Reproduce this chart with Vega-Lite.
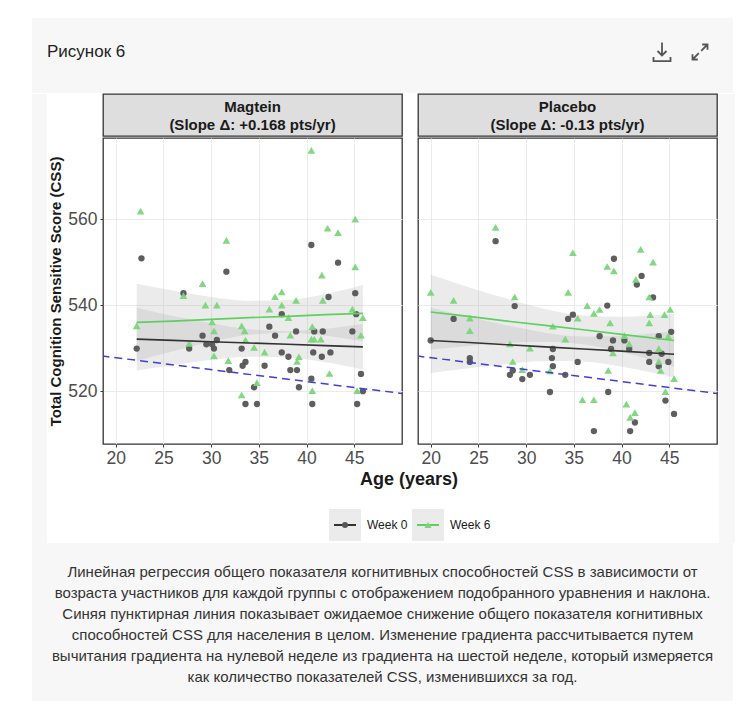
{
  "$schema": "https://vega.github.io/schema/vega-lite/v6.json",
  "background": "white",
  "padding": {"left": 32, "top": 18, "right": 0, "bottom": 0},
  "spacing": 0,
  "config": {
    "font": "Liberation Sans",
    "view": {"stroke": null},
    "axis": {
      "domain": false,
      "gridColor": "#ebebeb",
      "gridWidth": 1,
      "tickColor": "#333333",
      "tickSize": 3,
      "labelColor": "#4d4d4d",
      "labelFont": "Liberation Sans",
      "labelFontSize": 17.5,
      "titleFont": "Liberation Sans",
      "titleFontWeight": "bold",
      "titleColor": "#1a1a1a"
    }
  },
  "datasets": {
    "points": [
      {"g": "Magtein", "w": "Week 6", "age": 22.6, "css": 561.9},
      {"g": "Magtein", "w": "Week 6", "age": 40.5, "css": 576.0},
      {"g": "Magtein", "w": "Week 6", "age": 31.6, "css": 555.1},
      {"g": "Magtein", "w": "Week 6", "age": 29.1, "css": 545.0},
      {"g": "Magtein", "w": "Week 6", "age": 27.1, "css": 542.2},
      {"g": "Magtein", "w": "Week 6", "age": 29.4, "css": 540.0},
      {"g": "Magtein", "w": "Week 6", "age": 30.6, "css": 540.0},
      {"g": "Magtein", "w": "Week 6", "age": 22.2, "css": 535.2},
      {"g": "Magtein", "w": "Week 6", "age": 30.1, "css": 536.1},
      {"g": "Magtein", "w": "Week 6", "age": 30.3, "css": 534.0},
      {"g": "Magtein", "w": "Week 6", "age": 33.2, "css": 535.2},
      {"g": "Magtein", "w": "Week 6", "age": 33.5, "css": 534.0},
      {"g": "Magtein", "w": "Week 6", "age": 33.6, "css": 531.9},
      {"g": "Magtein", "w": "Week 6", "age": 27.7, "css": 531.1},
      {"g": "Magtein", "w": "Week 6", "age": 30.3, "css": 528.2},
      {"g": "Magtein", "w": "Week 6", "age": 34.5, "css": 530.2},
      {"g": "Magtein", "w": "Week 6", "age": 31.8, "css": 527.1},
      {"g": "Magtein", "w": "Week 6", "age": 35.6, "css": 529.1},
      {"g": "Magtein", "w": "Week 6", "age": 33.2, "css": 519.1},
      {"g": "Magtein", "w": "Week 6", "age": 34.8, "css": 522.0},
      {"g": "Magtein", "w": "Week 6", "age": 36.7, "css": 542.0},
      {"g": "Magtein", "w": "Week 6", "age": 37.4, "css": 543.1},
      {"g": "Magtein", "w": "Week 6", "age": 36.1, "css": 539.1},
      {"g": "Magtein", "w": "Week 6", "age": 37.4, "css": 540.0},
      {"g": "Magtein", "w": "Week 6", "age": 38.9, "css": 541.1},
      {"g": "Magtein", "w": "Week 6", "age": 38.1, "css": 537.1},
      {"g": "Magtein", "w": "Week 6", "age": 38.3, "css": 533.0},
      {"g": "Magtein", "w": "Week 6", "age": 39.2, "css": 528.0},
      {"g": "Magtein", "w": "Week 6", "age": 39.0, "css": 526.9},
      {"g": "Magtein", "w": "Week 6", "age": 40.6, "css": 535.0},
      {"g": "Magtein", "w": "Week 6", "age": 40.8, "css": 532.1},
      {"g": "Magtein", "w": "Week 6", "age": 40.5, "css": 532.1},
      {"g": "Magtein", "w": "Week 6", "age": 41.5, "css": 532.1},
      {"g": "Magtein", "w": "Week 6", "age": 41.6, "css": 547.0},
      {"g": "Magtein", "w": "Week 6", "age": 41.7, "css": 541.1},
      {"g": "Magtein", "w": "Week 6", "age": 40.6, "css": 520.1},
      {"g": "Magtein", "w": "Week 6", "age": 42.2, "css": 557.9},
      {"g": "Magtein", "w": "Week 6", "age": 43.3, "css": 556.9},
      {"g": "Magtein", "w": "Week 6", "age": 42.4, "css": 524.1},
      {"g": "Magtein", "w": "Week 6", "age": 45.1, "css": 560.0},
      {"g": "Magtein", "w": "Week 6", "age": 45.1, "css": 548.9},
      {"g": "Magtein", "w": "Week 6", "age": 44.8, "css": 539.1},
      {"g": "Magtein", "w": "Week 6", "age": 45.9, "css": 537.1},
      {"g": "Magtein", "w": "Week 6", "age": 45.7, "css": 533.0},
      {"g": "Magtein", "w": "Week 6", "age": 45.3, "css": 520.1},
      {"g": "Magtein", "w": "Week 0", "age": 22.7, "css": 550.9},
      {"g": "Magtein", "w": "Week 0", "age": 22.2, "css": 529.9},
      {"g": "Magtein", "w": "Week 0", "age": 27.1, "css": 542.8},
      {"g": "Magtein", "w": "Week 0", "age": 27.7, "css": 529.9},
      {"g": "Magtein", "w": "Week 0", "age": 31.6, "css": 547.8},
      {"g": "Magtein", "w": "Week 0", "age": 29.1, "css": 532.9},
      {"g": "Magtein", "w": "Week 0", "age": 29.5, "css": 530.9},
      {"g": "Magtein", "w": "Week 0", "age": 30.1, "css": 530.9},
      {"g": "Magtein", "w": "Week 0", "age": 30.3, "css": 529.9},
      {"g": "Magtein", "w": "Week 0", "age": 30.6, "css": 531.9},
      {"g": "Magtein", "w": "Week 0", "age": 31.9, "css": 524.9},
      {"g": "Magtein", "w": "Week 0", "age": 33.2, "css": 529.9},
      {"g": "Magtein", "w": "Week 0", "age": 33.6, "css": 526.8},
      {"g": "Magtein", "w": "Week 0", "age": 33.3, "css": 525.9},
      {"g": "Magtein", "w": "Week 0", "age": 33.6, "css": 517.0},
      {"g": "Magtein", "w": "Week 0", "age": 34.8, "css": 517.0},
      {"g": "Magtein", "w": "Week 0", "age": 34.5, "css": 520.9},
      {"g": "Magtein", "w": "Week 0", "age": 35.6, "css": 525.9},
      {"g": "Magtein", "w": "Week 0", "age": 36.1, "css": 535.0},
      {"g": "Magtein", "w": "Week 0", "age": 36.7, "css": 532.9},
      {"g": "Magtein", "w": "Week 0", "age": 37.4, "css": 537.9},
      {"g": "Magtein", "w": "Week 0", "age": 37.4, "css": 529.0},
      {"g": "Magtein", "w": "Week 0", "age": 38.1, "css": 528.0},
      {"g": "Magtein", "w": "Week 0", "age": 38.3, "css": 524.9},
      {"g": "Magtein", "w": "Week 0", "age": 39.0, "css": 524.9},
      {"g": "Magtein", "w": "Week 0", "age": 38.9, "css": 533.9},
      {"g": "Magtein", "w": "Week 0", "age": 39.2, "css": 520.9},
      {"g": "Magtein", "w": "Week 0", "age": 40.5, "css": 554.0},
      {"g": "Magtein", "w": "Week 0", "age": 40.8, "css": 533.9},
      {"g": "Magtein", "w": "Week 0", "age": 40.7, "css": 529.0},
      {"g": "Magtein", "w": "Week 0", "age": 40.5, "css": 522.9},
      {"g": "Magtein", "w": "Week 0", "age": 40.6, "css": 517.0},
      {"g": "Magtein", "w": "Week 0", "age": 41.6, "css": 528.0},
      {"g": "Magtein", "w": "Week 0", "age": 41.7, "css": 533.9},
      {"g": "Magtein", "w": "Week 0", "age": 42.3, "css": 541.9},
      {"g": "Magtein", "w": "Week 0", "age": 42.5, "css": 529.0},
      {"g": "Magtein", "w": "Week 0", "age": 43.3, "css": 549.9},
      {"g": "Magtein", "w": "Week 0", "age": 45.1, "css": 542.8},
      {"g": "Magtein", "w": "Week 0", "age": 45.2, "css": 537.9},
      {"g": "Magtein", "w": "Week 0", "age": 44.8, "css": 533.9},
      {"g": "Magtein", "w": "Week 0", "age": 45.7, "css": 524.0},
      {"g": "Magtein", "w": "Week 0", "age": 45.9, "css": 520.0},
      {"g": "Magtein", "w": "Week 0", "age": 45.3, "css": 517.0},
      {"g": "Placebo", "w": "Week 6", "age": 20.0, "css": 543.0},
      {"g": "Placebo", "w": "Week 6", "age": 22.4, "css": 541.1},
      {"g": "Placebo", "w": "Week 6", "age": 24.1, "css": 537.0},
      {"g": "Placebo", "w": "Week 6", "age": 24.1, "css": 534.1},
      {"g": "Placebo", "w": "Week 6", "age": 26.8, "css": 558.1},
      {"g": "Placebo", "w": "Week 6", "age": 28.8, "css": 541.9},
      {"g": "Placebo", "w": "Week 6", "age": 28.3, "css": 531.0},
      {"g": "Placebo", "w": "Week 6", "age": 28.6, "css": 526.9},
      {"g": "Placebo", "w": "Week 6", "age": 29.6, "css": 525.0},
      {"g": "Placebo", "w": "Week 6", "age": 30.4, "css": 530.0},
      {"g": "Placebo", "w": "Week 6", "age": 32.5, "css": 524.7},
      {"g": "Placebo", "w": "Week 6", "age": 32.8, "css": 535.1},
      {"g": "Placebo", "w": "Week 6", "age": 34.1, "css": 532.1},
      {"g": "Placebo", "w": "Week 6", "age": 34.4, "css": 543.0},
      {"g": "Placebo", "w": "Week 6", "age": 34.9, "css": 552.2},
      {"g": "Placebo", "w": "Week 6", "age": 35.4, "css": 537.0},
      {"g": "Placebo", "w": "Week 6", "age": 35.9, "css": 518.0},
      {"g": "Placebo", "w": "Week 6", "age": 36.4, "css": 539.9},
      {"g": "Placebo", "w": "Week 6", "age": 37.1, "css": 538.1},
      {"g": "Placebo", "w": "Week 6", "age": 37.1, "css": 518.0},
      {"g": "Placebo", "w": "Week 6", "age": 37.7, "css": 539.0},
      {"g": "Placebo", "w": "Week 6", "age": 38.5, "css": 549.0},
      {"g": "Placebo", "w": "Week 6", "age": 39.2, "css": 548.0},
      {"g": "Placebo", "w": "Week 6", "age": 38.8, "css": 535.9},
      {"g": "Placebo", "w": "Week 6", "age": 39.1, "css": 528.9},
      {"g": "Placebo", "w": "Week 6", "age": 38.6, "css": 524.8},
      {"g": "Placebo", "w": "Week 6", "age": 40.3, "css": 532.9},
      {"g": "Placebo", "w": "Week 6", "age": 40.5, "css": 517.0},
      {"g": "Placebo", "w": "Week 6", "age": 40.8, "css": 531.0},
      {"g": "Placebo", "w": "Week 6", "age": 40.9, "css": 513.9},
      {"g": "Placebo", "w": "Week 6", "age": 41.4, "css": 515.0},
      {"g": "Placebo", "w": "Week 6", "age": 41.5, "css": 546.0},
      {"g": "Placebo", "w": "Week 6", "age": 42.0, "css": 553.0},
      {"g": "Placebo", "w": "Week 6", "age": 42.9, "css": 541.9},
      {"g": "Placebo", "w": "Week 6", "age": 43.0, "css": 537.8},
      {"g": "Placebo", "w": "Week 6", "age": 42.9, "css": 535.9},
      {"g": "Placebo", "w": "Week 6", "age": 43.3, "css": 550.0},
      {"g": "Placebo", "w": "Week 6", "age": 43.9, "css": 529.9},
      {"g": "Placebo", "w": "Week 6", "age": 43.9, "css": 526.9},
      {"g": "Placebo", "w": "Week 6", "age": 44.1, "css": 524.8},
      {"g": "Placebo", "w": "Week 6", "age": 44.5, "css": 537.8},
      {"g": "Placebo", "w": "Week 6", "age": 44.9, "css": 532.8},
      {"g": "Placebo", "w": "Week 6", "age": 45.1, "css": 539.0},
      {"g": "Placebo", "w": "Week 6", "age": 44.6, "css": 519.9},
      {"g": "Placebo", "w": "Week 6", "age": 45.5, "css": 522.9},
      {"g": "Placebo", "w": "Week 0", "age": 20.0, "css": 531.8},
      {"g": "Placebo", "w": "Week 0", "age": 22.4, "css": 536.8},
      {"g": "Placebo", "w": "Week 0", "age": 24.1, "css": 527.7},
      {"g": "Placebo", "w": "Week 0", "age": 24.1, "css": 526.8},
      {"g": "Placebo", "w": "Week 0", "age": 26.8, "css": 554.9},
      {"g": "Placebo", "w": "Week 0", "age": 28.8, "css": 539.8},
      {"g": "Placebo", "w": "Week 0", "age": 28.3, "css": 523.8},
      {"g": "Placebo", "w": "Week 0", "age": 28.6, "css": 524.8},
      {"g": "Placebo", "w": "Week 0", "age": 29.6, "css": 522.8},
      {"g": "Placebo", "w": "Week 0", "age": 30.4, "css": 523.8},
      {"g": "Placebo", "w": "Week 0", "age": 32.5, "css": 519.8},
      {"g": "Placebo", "w": "Week 0", "age": 32.8, "css": 529.8},
      {"g": "Placebo", "w": "Week 0", "age": 32.7, "css": 527.7},
      {"g": "Placebo", "w": "Week 0", "age": 32.8, "css": 525.8},
      {"g": "Placebo", "w": "Week 0", "age": 34.1, "css": 523.8},
      {"g": "Placebo", "w": "Week 0", "age": 34.4, "css": 536.8},
      {"g": "Placebo", "w": "Week 0", "age": 34.9, "css": 537.8},
      {"g": "Placebo", "w": "Week 0", "age": 35.4, "css": 526.8},
      {"g": "Placebo", "w": "Week 0", "age": 37.1, "css": 510.7},
      {"g": "Placebo", "w": "Week 0", "age": 37.7, "css": 532.8},
      {"g": "Placebo", "w": "Week 0", "age": 38.5, "css": 539.9},
      {"g": "Placebo", "w": "Week 0", "age": 39.2, "css": 550.8},
      {"g": "Placebo", "w": "Week 0", "age": 39.1, "css": 531.8},
      {"g": "Placebo", "w": "Week 0", "age": 38.9, "css": 529.8},
      {"g": "Placebo", "w": "Week 0", "age": 38.6, "css": 519.8},
      {"g": "Placebo", "w": "Week 0", "age": 40.3, "css": 531.8},
      {"g": "Placebo", "w": "Week 0", "age": 40.8, "css": 529.8},
      {"g": "Placebo", "w": "Week 0", "age": 40.9, "css": 510.7},
      {"g": "Placebo", "w": "Week 0", "age": 41.4, "css": 512.7},
      {"g": "Placebo", "w": "Week 0", "age": 41.6, "css": 544.8},
      {"g": "Placebo", "w": "Week 0", "age": 42.1, "css": 546.8},
      {"g": "Placebo", "w": "Week 0", "age": 43.3, "css": 541.8},
      {"g": "Placebo", "w": "Week 0", "age": 42.9, "css": 528.9},
      {"g": "Placebo", "w": "Week 0", "age": 42.9, "css": 526.8},
      {"g": "Placebo", "w": "Week 0", "age": 43.9, "css": 532.8},
      {"g": "Placebo", "w": "Week 0", "age": 43.9, "css": 525.8},
      {"g": "Placebo", "w": "Week 0", "age": 44.2, "css": 528.7},
      {"g": "Placebo", "w": "Week 0", "age": 44.6, "css": 517.8},
      {"g": "Placebo", "w": "Week 0", "age": 44.9, "css": 526.8},
      {"g": "Placebo", "w": "Week 0", "age": 45.2, "css": 533.8},
      {"g": "Placebo", "w": "Week 0", "age": 45.5, "css": 514.7}
    ],
    "fits": [
      {"g": "Magtein", "w": "Week 6", "age": 22.2, "fit": 536.0, "lo": 527.0, "hi": 545.0},
      {"g": "Magtein", "w": "Week 6", "age": 26, "fit": 536.3, "lo": 529.3, "hi": 543.4},
      {"g": "Magtein", "w": "Week 6", "age": 30, "fit": 536.7, "lo": 531.5, "hi": 541.9},
      {"g": "Magtein", "w": "Week 6", "age": 34, "fit": 537.1, "lo": 533.1, "hi": 541.0},
      {"g": "Magtein", "w": "Week 6", "age": 38, "fit": 537.4, "lo": 533.6, "hi": 541.2},
      {"g": "Magtein", "w": "Week 6", "age": 42, "fit": 537.8, "lo": 532.9, "hi": 542.6},
      {"g": "Magtein", "w": "Week 6", "age": 45.9, "fit": 538.1, "lo": 531.6, "hi": 544.7},
      {"g": "Magtein", "w": "Week 0", "age": 22.2, "fit": 532.1, "lo": 524.8, "hi": 539.4},
      {"g": "Magtein", "w": "Week 0", "age": 26, "fit": 531.8, "lo": 526.1, "hi": 537.5},
      {"g": "Magtein", "w": "Week 0", "age": 30, "fit": 531.5, "lo": 527.3, "hi": 535.8},
      {"g": "Magtein", "w": "Week 0", "age": 34, "fit": 531.2, "lo": 528.0, "hi": 534.4},
      {"g": "Magtein", "w": "Week 0", "age": 38, "fit": 530.9, "lo": 527.8, "hi": 534.0},
      {"g": "Magtein", "w": "Week 0", "age": 42, "fit": 530.6, "lo": 526.7, "hi": 534.5},
      {"g": "Magtein", "w": "Week 0", "age": 45.9, "fit": 530.3, "lo": 525.0, "hi": 535.6},
      {"g": "Placebo", "w": "Week 6", "age": 20, "fit": 538.4, "lo": 529.7, "hi": 547.1},
      {"g": "Placebo", "w": "Week 6", "age": 24, "fit": 537.4, "lo": 530.5, "hi": 544.2},
      {"g": "Placebo", "w": "Week 6", "age": 28, "fit": 536.3, "lo": 531.2, "hi": 541.5},
      {"g": "Placebo", "w": "Week 6", "age": 32, "fit": 535.3, "lo": 531.5, "hi": 539.1},
      {"g": "Placebo", "w": "Week 6", "age": 36, "fit": 534.3, "lo": 530.9, "hi": 537.6},
      {"g": "Placebo", "w": "Week 6", "age": 40, "fit": 533.2, "lo": 529.1, "hi": 537.3},
      {"g": "Placebo", "w": "Week 6", "age": 45.5, "fit": 531.8, "lo": 525.6, "hi": 538.0},
      {"g": "Placebo", "w": "Week 0", "age": 20, "fit": 531.8, "lo": 524.2, "hi": 539.4},
      {"g": "Placebo", "w": "Week 0", "age": 24, "fit": 531.3, "lo": 525.3, "hi": 537.3},
      {"g": "Placebo", "w": "Week 0", "age": 28, "fit": 530.8, "lo": 526.3, "hi": 535.3},
      {"g": "Placebo", "w": "Week 0", "age": 32, "fit": 530.3, "lo": 527.0, "hi": 533.6},
      {"g": "Placebo", "w": "Week 0", "age": 36, "fit": 529.8, "lo": 526.9, "hi": 532.7},
      {"g": "Placebo", "w": "Week 0", "age": 40, "fit": 529.3, "lo": 525.7, "hi": 532.9},
      {"g": "Placebo", "w": "Week 0", "age": 45.5, "fit": 528.6, "lo": 523.2, "hi": 534.0}
    ],
    "population": [
      {"age": 18.5, "css": 528.2},
      {"age": 50.2, "css": 519.4}
    ],
    "strips": [
      {"g": "Magtein", "line": 1, "label": "Magtein"},
      {"g": "Magtein", "line": 2, "label": "(Slope Δ: +0.168 pts/yr)"},
      {"g": "Placebo", "line": 1, "label": "Placebo"},
      {"g": "Placebo", "line": 2, "label": "(Slope Δ: -0.13 pts/yr)"}
    ],
    "legend": [
      {"w": "Week 0"},
      {"w": "Week 6"}
    ],
    "icons": [
      {"icon": "download"},
      {"icon": "expand"}
    ],
    "caption": [
      {"line": 1, "text": "Линейная регрессия общего показателя когнитивных способностей CSS в зависимости от"},
      {"line": 2, "text": "возраста участников для каждой группы с отображением подобранного уравнения и наклона."},
      {"line": 3, "text": "Синяя пунктирная линия показывает ожидаемое снижение общего показателя когнитивных"},
      {"line": 4, "text": "способностей CSS для населения в целом. Изменение градиента рассчитывается путем"},
      {"line": 5, "text": "вычитания градиента на нулевой неделе из градиента на шестой неделе, который измеряется"},
      {"line": 6, "text": "как количество показателей CSS, изменившихся за год."}
    ]
  },
  "vconcat": [
    {
      "width": 701,
      "height": 75,
      "view": {"fill": "#f7f7f7", "stroke": null},
      "title": {
        "text": "Рисунок 6",
        "anchor": "start",
        "dx": 15,
        "offset": -43,
        "fontSize": 17,
        "fontWeight": "normal",
        "font": "Liberation Sans",
        "color": "#222222"
      },
      "data": {"name": "icons"},
      "mark": {"type": "point", "filled": false, "size": 400, "strokeWidth": 1.8, "color": "#555555", "opacity": 1, "yOffset": -3.5},
      "encoding": {
        "x": {"field": "icon", "type": "nominal", "sort": null, "axis": null,
              "scale": {"type": "point", "padding": 0, "range": [630, 668]}},
        "shape": {"field": "icon", "type": "nominal", "legend": null,
                  "scale": {"domain": ["download", "expand"],
                            "range": ["M0,-0.95V0.35M-0.45,-0.1L0,0.35L0.45,-0.1M-0.85,0.5V0.92H0.85V0.5",
                                      "M-0.75,0.75L-0.12,0.12M0.12,-0.12L0.75,-0.75M0.22,-0.75H0.75V-0.22M-0.75,0.22V0.75H-0.22"]}}
      }
    },
    {
      "spacing": 1,
      "hconcat": [
        {
          "width": 15,
          "height": 449,
          "view": {"fill": "#f7f7f7", "stroke": null},
          "data": {"values": []},
          "mark": "rect"
        },
        {
          "spacing": 3,
          "vconcat": [
            {
              "spacing": 14,
              "hconcat": [
                {
                  "spacing": 0,
                  "vconcat": [
                    {
                      "width": 299,
                      "height": 42,
                      "view": {"fill": "#dedede", "stroke": "#333333", "strokeWidth": 1.3},
                      "data": {"name": "strips"},
                      "transform": [{"filter": "datum.g === 'Magtein'"}],
                      "mark": {"type": "text", "fontSize": 15, "fontWeight": "bold", "color": "#1a1a1a", "dy": 1},
                      "encoding": {
                        "y": {"field": "line", "type": "ordinal", "axis": null, "scale": {"type": "point", "padding": 0.62}},
                        "text": {"field": "label"}
                      }
                    },
                    {
                      "width": 299,
                      "height": 306,
                      "view": {"stroke": "#333333", "strokeWidth": 1.3},
                      "layer": [
                        {
                          "data": {"name": "fits"},
                          "transform": [{"filter": "datum.g === 'Magtein'"}],
                          "mark": {"type": "area", "color": "#999999", "opacity": 0.2, "interpolate": "monotone"},
                          "encoding": {
                            "x": {"field": "age", "type": "quantitative",
                                  "scale": {"domain": [18.67, 50], "nice": false, "zero": false},
                                  "axis": {"values": [20, 25, 30, 35, 40, 45], "title": null, "labelPadding": 2}},
                            "y": {"field": "lo", "type": "quantitative",
                                  "scale": {"domain": [507.7, 578.9], "nice": false, "zero": false},
                                  "axis": {"values": [520, 540, 560], "title": "Total Cognition Sensitive Score (CSS)",
                                           "titleFontSize": 15, "titlePadding": 4, "labelPadding": 3}},
                            "y2": {"field": "hi"},
                            "detail": {"field": "w"}
                          }
                        },
                        {
                          "data": {"name": "points"},
                          "transform": [{"filter": "datum.g === 'Magtein' && datum.w === 'Week 0'"}],
                          "mark": {"type": "point", "shape": "circle", "filled": true, "size": 40, "color": "#555555", "opacity": 0.95},
                          "encoding": {
                            "x": {"field": "age", "type": "quantitative"},
                            "y": {"field": "css", "type": "quantitative"}
                          }
                        },
                        {
                          "data": {"name": "points"},
                          "transform": [{"filter": "datum.g === 'Magtein' && datum.w === 'Week 6'"}],
                          "mark": {"type": "point", "shape": "triangle-up", "filled": true, "size": 60, "color": "#7bd67b", "opacity": 0.95},
                          "encoding": {
                            "x": {"field": "age", "type": "quantitative"},
                            "y": {"field": "css", "type": "quantitative"}
                          }
                        },
                        {
                          "data": {"name": "fits"},
                          "transform": [{"filter": "datum.g === 'Magtein'"}],
                          "mark": {"type": "line", "strokeWidth": 1.6},
                          "encoding": {
                            "x": {"field": "age", "type": "quantitative"},
                            "y": {"field": "fit", "type": "quantitative"},
                            "stroke": {"field": "w", "type": "nominal", "legend": null,
                                       "scale": {"domain": ["Week 0", "Week 6"], "range": ["#333333", "#5fcf5f"]}}
                          }
                        },
                        {
                          "data": {"name": "population"},
                          "mark": {"type": "line", "color": "#3f3fd6", "strokeDash": [8, 5], "strokeWidth": 1.5, "clip": true},
                          "encoding": {
                            "x": {"field": "age", "type": "quantitative"},
                            "y": {"field": "css", "type": "quantitative"}
                          }
                        }
                      ]
                    }
                  ]
                },
                {
                  "spacing": 0,
                  "vconcat": [
                    {
                      "width": 299,
                      "height": 42,
                      "view": {"fill": "#dedede", "stroke": "#333333", "strokeWidth": 1.3},
                      "data": {"name": "strips"},
                      "transform": [{"filter": "datum.g === 'Placebo'"}],
                      "mark": {"type": "text", "fontSize": 15, "fontWeight": "bold", "color": "#1a1a1a", "dy": 1},
                      "encoding": {
                        "y": {"field": "line", "type": "ordinal", "axis": null, "scale": {"type": "point", "padding": 0.62}},
                        "text": {"field": "label"}
                      }
                    },
                    {
                      "width": 299,
                      "height": 306,
                      "view": {"stroke": "#333333", "strokeWidth": 1.3},
                      "layer": [
                        {
                          "data": {"name": "fits"},
                          "transform": [{"filter": "datum.g === 'Placebo'"}],
                          "mark": {"type": "area", "color": "#999999", "opacity": 0.2, "interpolate": "monotone"},
                          "encoding": {
                            "x": {"field": "age", "type": "quantitative",
                                  "scale": {"domain": [18.67, 50], "nice": false, "zero": false},
                                  "axis": {"values": [20, 25, 30, 35, 40, 45], "title": null, "labelPadding": 2}},
                            "y": {"field": "lo", "type": "quantitative",
                                  "scale": {"domain": [507.7, 578.9], "nice": false, "zero": false},
                                  "axis": {"values": [520, 540, 560], "title": null, "labels": false, "ticks": false}},
                            "y2": {"field": "hi"},
                            "detail": {"field": "w"}
                          }
                        },
                        {
                          "data": {"name": "points"},
                          "transform": [{"filter": "datum.g === 'Placebo' && datum.w === 'Week 0'"}],
                          "mark": {"type": "point", "shape": "circle", "filled": true, "size": 40, "color": "#555555", "opacity": 0.95},
                          "encoding": {
                            "x": {"field": "age", "type": "quantitative"},
                            "y": {"field": "css", "type": "quantitative"}
                          }
                        },
                        {
                          "data": {"name": "points"},
                          "transform": [{"filter": "datum.g === 'Placebo' && datum.w === 'Week 6'"}],
                          "mark": {"type": "point", "shape": "triangle-up", "filled": true, "size": 60, "color": "#7bd67b", "opacity": 0.95},
                          "encoding": {
                            "x": {"field": "age", "type": "quantitative"},
                            "y": {"field": "css", "type": "quantitative"}
                          }
                        },
                        {
                          "data": {"name": "fits"},
                          "transform": [{"filter": "datum.g === 'Placebo'"}],
                          "mark": {"type": "line", "strokeWidth": 1.6},
                          "encoding": {
                            "x": {"field": "age", "type": "quantitative"},
                            "y": {"field": "fit", "type": "quantitative"},
                            "stroke": {"field": "w", "type": "nominal", "legend": null,
                                       "scale": {"domain": ["Week 0", "Week 6"], "range": ["#333333", "#5fcf5f"]}}
                          }
                        },
                        {
                          "data": {"name": "population"},
                          "mark": {"type": "line", "color": "#3f3fd6", "strokeDash": [8, 5], "strokeWidth": 1.5, "clip": true},
                          "encoding": {
                            "x": {"field": "age", "type": "quantitative"},
                            "y": {"field": "css", "type": "quantitative"}
                          }
                        }
                      ]
                    }
                  ]
                }
              ]
            },
            {
              "width": 612,
              "height": 32,
              "data": {"name": "legend"},
              "title": {
                "text": "Age (years)",
                "anchor": "middle",
                "fontSize": 18,
                "fontWeight": "bold",
                "font": "Liberation Sans",
                "color": "#1a1a1a",
                "offset": 20
              },
              "encoding": {
                "x": {"field": "w", "type": "nominal", "bandPosition": 0, "axis": null,
                      "scale": {"type": "band", "domain": ["Week 0", "Week 6"], "paddingInner": 0, "paddingOuter": 0, "range": [223, 389]}}
              },
              "layer": [
                {
                  "mark": {"type": "point", "shape": "square", "size": 1024, "filled": true, "color": "#ebebeb", "opacity": 1, "xOffset": 19}
                },
                {
                  "transform": [{"filter": "datum.w === 'Week 0'"}],
                  "mark": {"type": "point", "shape": "M-1,0L1,0", "size": 484, "filled": false, "strokeWidth": 2, "color": "#333333", "opacity": 1, "xOffset": 19}
                },
                {
                  "transform": [{"filter": "datum.w === 'Week 6'"}],
                  "mark": {"type": "point", "shape": "M-1,0L1,0", "size": 484, "filled": false, "strokeWidth": 2, "color": "#5fcf5f", "opacity": 1, "xOffset": 19}
                },
                {
                  "transform": [{"filter": "datum.w === 'Week 0'"}],
                  "mark": {"type": "point", "shape": "circle", "filled": true, "size": 36, "color": "#555555", "opacity": 1, "xOffset": 19}
                },
                {
                  "transform": [{"filter": "datum.w === 'Week 6'"}],
                  "mark": {"type": "point", "shape": "triangle-up", "filled": true, "size": 50, "color": "#7bd67b", "opacity": 1, "xOffset": 19}
                },
                {
                  "mark": {"type": "text", "align": "left", "fontSize": 12, "color": "#1a1a1a", "xOffset": 41},
                  "encoding": {"text": {"field": "w"}}
                }
              ]
            }
          ]
        },
        {
          "width": 16,
          "height": 449,
          "view": {"fill": "#f7f7f7", "stroke": null},
          "data": {"values": []},
          "mark": "rect"
        }
      ]
    },
    {
      "width": 701,
      "height": 158,
      "view": {"fill": "#f7f7f7", "stroke": null},
      "data": {"name": "caption"},
      "mark": {"type": "text", "fontSize": 15, "color": "#333333"},
      "encoding": {
        "y": {"field": "line", "type": "ordinal", "axis": null,
              "scale": {"type": "point", "padding": 0, "range": [29, 134]}},
        "text": {"field": "text"}
      }
    }
  ]
}
